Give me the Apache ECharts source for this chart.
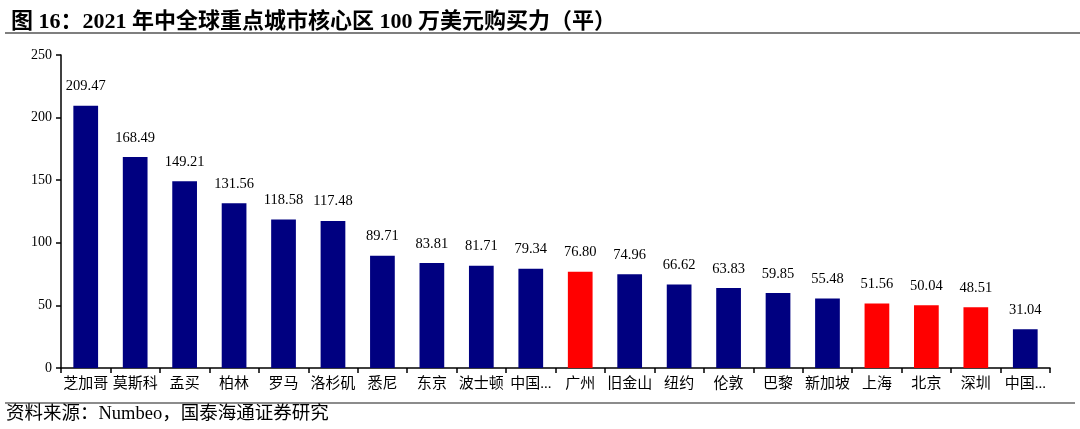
<!DOCTYPE html>
<html><head><meta charset="utf-8">
<script src="https://cdn.jsdelivr.net/npm/echarts@6/dist/echarts.min.js"></script>
<style>html,body{margin:0;padding:0;background:#fff}#c{width:1080px;height:429px}</style>
</head><body><div id="c"></div>
<script>
const categories = ['芝加哥','莫斯科','孟买','柏林','罗马','洛杉矶','悉尼','东京','波士顿','中国...','广州','旧金山','纽约','伦敦','巴黎','新加坡','上海','北京','深圳','中国...'];
const values = [209.47,168.49,149.21,131.56,118.58,117.48,89.71,83.81,81.71,79.34,76.80,74.96,66.62,63.83,59.85,55.48,51.56,50.04,48.51,31.04];
const highlighted = ['广州','上海','北京','深圳'];
const yTicks = [0,50,100,150,200,250];
const titleText = '图 16：2021 年中全球重点城市核心区 100 万美元购买力（平）';
const sourceText = '资料来源：Numbeo，国泰海通证券研究';

const serif = '"Liberation Serif","Times New Roman","Noto Sans CJK SC",serif';
const chart = echarts.init(document.getElementById('c'));
chart.setOption({
  animation:false,
  title:{text:titleText,left:6,top:6,textStyle:{fontFamily:serif,fontWeight:'bold',fontSize:22,color:'#000'}},
  graphic:[
    {type:'line',shape:{x1:5,y1:33,x2:1080,y2:33},style:{stroke:'#555',lineWidth:1.5}},
    {type:'line',shape:{x1:5,y1:403,x2:1075,y2:403},style:{stroke:'#666',lineWidth:1.5}},
    {type:'text',left:6,top:405,style:{text:sourceText,font:'18.5px '+serif,fill:'#000'}}
  ],
  grid:{left:61,right:30,top:55,bottom:61},
  xAxis:{type:'category',data:categories,
    axisLine:{lineStyle:{color:'#000',width:1.5}},
    axisTick:{show:true,length:5,lineStyle:{color:'#000',width:1.5}},
    axisLabel:{interval:0,color:'#000',fontSize:15,fontFamily:serif,margin:9}},
  yAxis:{type:'value',min:yTicks[0],max:yTicks[yTicks.length-1],interval:50,
    splitLine:{show:false},
    axisLine:{show:true,lineStyle:{color:'#000',width:1.5}},
    axisTick:{show:true,length:5,lineStyle:{color:'#000',width:1.5}},
    axisLabel:{color:'#000',fontSize:14,fontFamily:serif,margin:9}},
  series:[{type:'bar',barWidth:'50%',
    data:values.map((v,i)=>({value:v,itemStyle:{color:highlighted.includes(categories[i])?'#FF0000':'#000080'}})),
    label:{show:true,position:'top',distance:12,color:'#000',fontSize:14.5,fontFamily:serif,formatter:p=>p.value.toFixed(2)}}]
});
</script></body></html>
